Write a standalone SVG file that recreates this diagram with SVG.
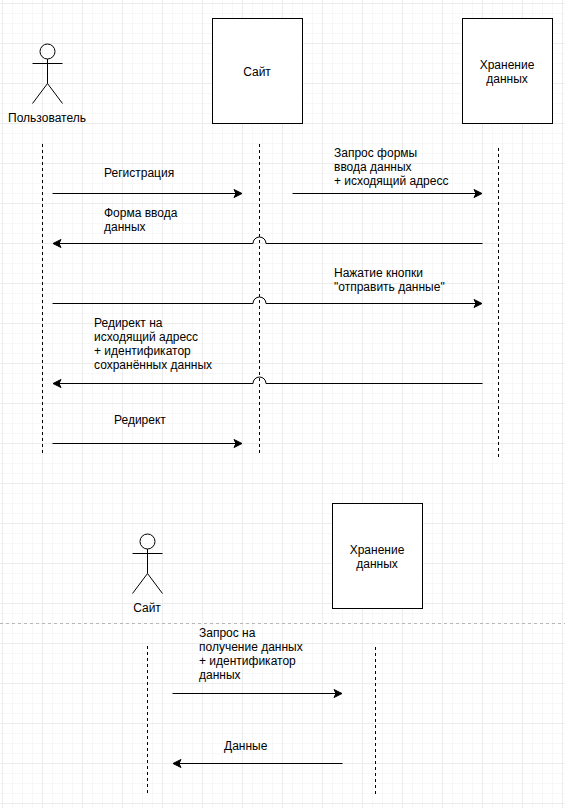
<svg xmlns="http://www.w3.org/2000/svg" width="565" height="808" viewBox="0 0 565 808">
<style>
text{font-family:"Liberation Sans",Arial,sans-serif;font-size:12px;fill:#000}
.c{text-anchor:middle}
.box{fill:#fff;stroke:#000;stroke-width:1}
.act{fill:none;stroke:#000;stroke-width:1}
.life{fill:none;stroke:#000;stroke-width:1;stroke-dasharray:3 3}
.msg{fill:none;stroke:#000;stroke-width:1;marker-end:url(#arr)}
</style>
<defs>
<marker id="arr" markerUnits="userSpaceOnUse" markerWidth="10" markerHeight="10" refX="8" refY="4" orient="auto" overflow="visible"><path d="M0 0L8 4L0 8L2 4Z" fill="#000" stroke="#000" stroke-width="1"/></marker>
<pattern id="minor" width="10" height="10" patternUnits="userSpaceOnUse" x="2" y="3"><path d="M0.5 0V10M0 0.5H10" fill="none" stroke="#f7f7f7" stroke-width="1"/></pattern>
<pattern id="major" width="40" height="40" patternUnits="userSpaceOnUse" x="2" y="3"><path d="M0.5 0V40M0 0.5H40" fill="none" stroke="#ececec" stroke-width="1"/></pattern>
</defs>
<rect width="565" height="808" fill="#fff"/>
<rect width="565" height="808" fill="url(#minor)"/>
<rect width="565" height="808" fill="url(#major)"/>
<path d="M0 623.5H565" fill="none" stroke="#b8b8b8" stroke-width="1" stroke-dasharray="3 3"/>
<g id="connectors">
<path class="life" d="M42.5 144V454"/>
<path class="life" d="M259.5 144V454"/>
<path class="life" d="M498.5 148V458"/>
<path class="life" d="M147.5 646V795"/>
<path class="life" d="M375.5 647V797"/>
<path class="msg" d="M52.500 193.500H242"/>
<path class="msg" d="M292.500 193.500H482"/>
<path class="msg" d="M482.500 243.500H266A6.500 6.500 0 0 0 253 243.500H53"/>
<path class="msg" d="M52.500 303.500H253A6.500 6.500 0 0 1 266 303.500H482"/>
<path class="msg" d="M482.500 383.500H266A6.500 6.500 0 0 0 253 383.500H53"/>
<path class="msg" d="M52.500 443.500H242"/>
<path class="msg" d="M172.500 693.500H342"/>
<path class="msg" d="M342.500 763.500H173"/>
</g>
<g id="user"><circle class="act" cx="47.500" cy="51.500" r="7.500"/><path class="act" d="M47.500 59V83.500M32.500 63.500H62.500M32.500 103.500L47.500 83.500L62.500 103.500"/><text class="c" x="47" y="122">Пользователь</text></g>
<g id="site"><rect class="box" x="212.500" y="18.500" width="90" height="105"/><text class="c" x="257" y="76">Сайт</text></g>
<g id="storage"><rect class="box" x="462.500" y="18.500" width="90" height="105"/><text class="c" x="507" y="69">Хранение</text><text class="c" x="507" y="83">данных</text></g>
<g id="site-actor"><circle class="act" cx="147.500" cy="541.500" r="7.500"/><path class="act" d="M147.500 549V573.500M132.500 553.500H162.500M132.500 593.500L147.500 573.500L162.500 593.500"/><text class="c" x="147" y="612">Сайт</text></g>
<g id="storage-2"><rect class="box" x="332.500" y="503.500" width="90" height="105"/><text class="c" x="377" y="554">Хранение</text><text class="c" x="377" y="568">данных</text></g>
<g id="labels">
<text x="104" y="177">Регистрация</text>
<text x="334" y="157">Запрос формы</text><text x="334" y="171">ввода данных</text><text x="334" y="185">+ исходящий адресс</text>
<text x="104" y="217">Форма ввода</text><text x="104" y="231">данных</text>
<text x="334" y="277">Нажатие кнопки</text><text x="334" y="291">"отправить данные"</text>
<text x="94" y="327">Редирект на</text><text x="94" y="341">исходящий адресс</text><text x="94" y="355">+ идентификатор</text><text x="94" y="369">сохранённых данных</text>
<text x="114" y="424">Редирект</text>
<text x="199" y="637">Запрос на</text><text x="199" y="651">получение данных</text><text x="199" y="665">+ идентификатор</text><text x="199" y="679">данных</text>
<text x="224" y="750">Данные</text>
</g>
</svg>
